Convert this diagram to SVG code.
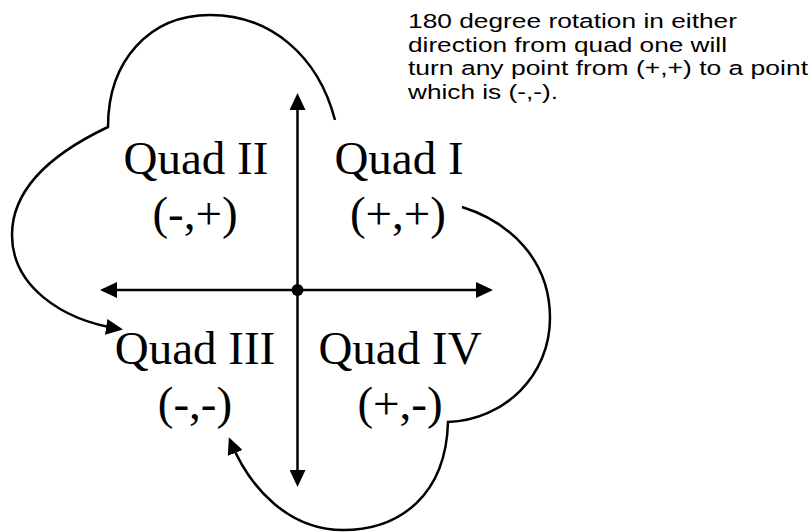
<svg xmlns="http://www.w3.org/2000/svg" width="812" height="532" viewBox="0 0 812 532">
<style>
.ln{fill:none;stroke:#000;stroke-width:2.5}
.q{font-family:"Liberation Serif","Times New Roman",serif;font-size:47px;fill:#000;text-anchor:middle}
.note{font-family:"Liberation Sans",Arial,sans-serif;font-size:20.5px;fill:#000}
</style>
<defs>
<marker id="ah" viewBox="0 0 17 16" refX="14" refY="8" markerWidth="17" markerHeight="16" markerUnits="userSpaceOnUse" orient="auto">
<path d="M0,0 L17,8 L0,16 Z" fill="#000"/>
</marker>
</defs>
<rect width="812" height="532" fill="#fff"/>
<g id="connectors">
<path id="axis-y-up" class="ln" d="M297.5,290 L297.5,96" marker-end="url(#ah)"/>
<path id="axis-y-down" class="ln" d="M297.5,290 L297.5,484" marker-end="url(#ah)"/>
<path id="axis-x-left" class="ln" d="M297.5,290 L103,290" marker-end="url(#ah)"/>
<path id="axis-x-right" class="ln" d="M297.5,290 L490,290" marker-end="url(#ah)"/>
<path id="rot-ccw" class="ln" d="M335,120 C318,55 270,15 210,15 C150,15 108,60 108,127 C70,145 12,180 12,235 C12,285 60,320 120,329" marker-end="url(#ah)"/>
<path id="rot-cw" class="ln" d="M462,207 C510,222 550,260 550,318 C550,375 505,420 448,422 C446,495 400,530 343,530 C290,530 250,490 230,440" marker-end="url(#ah)"/>
</g>
<g id="origin"><circle cx="297.5" cy="290" r="6" fill="#000"/></g>
<g id="quad2"><text class="q" x="196" y="174">Quad II</text><text class="q" x="195" y="229">(-,+)</text></g>
<g id="quad1"><text class="q" x="399" y="174">Quad I</text><text class="q" x="398" y="229">(+,+)</text></g>
<g id="quad3"><text class="q" x="195" y="364">Quad III</text><text class="q" x="195" y="419">(-,-)</text></g>
<g id="quad4"><text class="q" x="400" y="364">Quad IV</text><text class="q" x="400" y="419">(+,-)</text></g>
<g id="note">
<text class="note" x="408" y="28" textLength="329" lengthAdjust="spacingAndGlyphs">180 degree rotation in either</text>
<text class="note" x="408" y="51.5" textLength="319" lengthAdjust="spacingAndGlyphs">direction from quad one will</text>
<text class="note" x="408" y="75" textLength="400" lengthAdjust="spacingAndGlyphs">turn any point from (+,+) to a point</text>
<text class="note" x="408" y="98.5" textLength="150" lengthAdjust="spacingAndGlyphs">which is (-,-).</text>
</g>
</svg>
